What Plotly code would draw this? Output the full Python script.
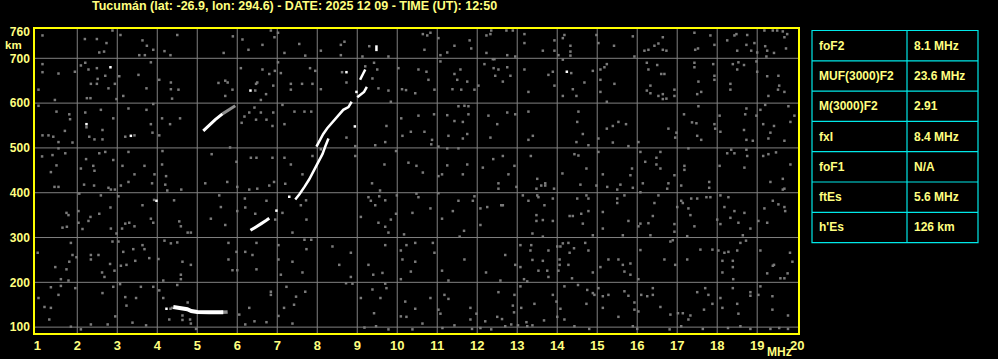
import plotly.graph_objects as go

TITLE = "Tucumán (lat: -26.9, lon: 294.6) - DATE: 2025 12 09 - TIME (UT): 12:50"

x_ticks = list(range(1, 21))
y_ticks = [100, 200, 300, 400, 500, 600, 700, 760]
x_grid = list(range(2, 20))
y_grid = [100, 200, 300, 400, 500, 600, 700]

table_labels = ["foF2", "MUF(3000)F2", "M(3000)F2", "fxI", "foF1", "ftEs", "h'Es"]
table_values = ["8.1 MHz", "23.6 MHz", "2.91", "8.4 MHz", "N/A", "5.6 MHz", "126 km"]

# Echo traces (frequency MHz, virtual height km)
es_mhz = [4.40, 4.60, 4.75, 4.85, 5.00, 5.30, 5.65]
es_km = [145, 143, 140, 136, 134, 133, 133]
es_tail_mhz = [5.60, 5.76]
es_tail_km = [133, 134]

f_hi_mhz = [5.15, 5.30, 5.45, 5.63]
f_hi_km = [538, 551, 563, 576]
f_hi_tail_mhz = [5.63, 5.80, 5.95]
f_hi_tail_km = [576, 586, 594]

o_low_mhz = [6.33, 6.45, 6.60, 6.72, 6.80]
o_low_km = [316, 322, 331, 338, 343]

x_mid_mhz = [7.45, 7.55, 7.68, 7.80, 7.93, 8.05, 8.13, 8.20, 8.28]
x_mid_km = [385, 396, 413, 430, 452, 471, 486, 503, 521]

o_up_mhz = [7.98, 8.07, 8.15, 8.25, 8.36, 8.48, 8.57, 8.65, 8.78, 8.86]
o_up_km = [503, 518, 531, 544, 555, 568, 577, 585, 591, 603]

hook_mhz = [9.00, 9.08, 9.17, 9.24]
hook_km = [613, 618, 625, 636]

top_mhz = [9.07, 9.14, 9.20]
top_km = [652, 664, 675]

dash_mhz = [9.48, 9.48]
dash_km = [716, 729]

white_dots = [(6.98, 360), (7.30, 391), (8.94, 548), (8.73, 669), (6.33, 628),
              (2.83, 680), (2.23, 553), (3.34, 527), (3.98, 382), (4.23, 141),
              (14.24, 670), (8.98, 625)]

noise = [
    (1.13,751),(2.19,743),(2.49,743),(2.73,734),(2.55,713),(2.67,715),(2.88,762),(3.08,752),(3.63,740),(3.74,728),
    (3.55,707),(3.69,707),(3.9,719),(4.18,716),(4.33,707),(4.5,752),(5.66,712),(5.89,749),(6.13,742),(6.28,719),
    (6.63,730),(6.84,762),(6.93,747),(7.02,757),(7.18,712),(7.55,732),(7.7,706),(8.09,717),(8.59,730),(8.68,737),
    (8.59,707),(9.3,727),(9.78,704),(9.13,704),
    (1.13,669),(1.13,687),(1.53,666),(1.94,670),(1.03,630),(1.44,607),(2.2,690),(2.09,684),(2.28,675),(2.49,678),
    (2.51,654),(2.49,643),(2.34,643),(2.7,661),(2.94,643),(2.78,633),(2.24,611),(2.33,611),(2.98,609),(3.05,660),
    (3.15,616),(3.53,663),(3.84,691),(3.73,633),(4.05,652),(4.34,646),(4.34,631),(4.53,630),(4.37,610),(5.53,645),
    (5.7,650),(5.76,646),(5.88,630),(5.7,616),(6.45,628),(6.5,646),(6.47,643),(6.59,607),(6.72,620),(6.9,639),
    (6.94,672),(6.8,665),(6.63,675),(6.09,678),(7.02,691),(7.09,667),(7.34,643),(7.34,630),(7.62,643),(7.88,643),
    (7.82,678),(7.95,672),(8.09,631),(8.62,669),(8.73,646),(9.2,682),(9.42,690),(9.5,675),(9.38,655),(9.53,633),
    (9.78,628),(9.84,603),(10.03,678),(10.12,631),(10.22,629),(10.45,622),
    (1.03,594),(1.48,581),(1.13,528),(1.28,528),(1.4,525),(1.53,513),(1.69,538),(1.82,564),(1.8,575),(1.88,512),
    (2.2,579),(2.23,546),(2.3,525),(2.43,519),(2.63,540),(2.63,519),(2.59,585),(2.9,566),(3.28,588),(3.2,525),
    (3.43,528),(3.73,585),(3.84,553),(3.88,534),(4.05,528),(4.12,566),(4.32,553),(4.57,566),(3.9,598),(6.18,570),
    (6.11,556),(6.3,579),(6.43,590),(6.47,563),(6.59,579),(6.73,563),(6.9,579),(6.88,549),(7.13,596),(7.18,553),
    (7.43,581),(7.68,581),(7.85,581),(8.73,523),(9.73,549),(10.1,566),(10.13,527),(10.34,536),(9.45,506),(9.7,513),
    (8.95,504),
    (1.12,481),(1.38,484),(1.53,499),(1.7,488),(1.48,461),(1.34,446),(2.09,454),(2.22,475),(2.4,460),(2.43,449),
    (2.55,488),(2.7,491),(2.9,473),(3.13,460),(3.43,441),(3.28,491),(3.68,460),(3.93,441),(4.13,493),(4.12,463),
    (4.22,437),(5.36,486),(5.82,501),(5.98,469),(6.34,478),(6.48,478),(6.88,478),(7.18,478),(7.34,463),(7.63,441),
    (7.88,482),(8.09,497),(8.95,482),(9.68,463),(9.97,493),(10.28,467),(10.48,460),
    (1.43,413),(1.53,413),(2.17,418),(2.42,416),(2.78,411),(2.84,407),(2.94,407),(3.09,416),(3.28,424),(3.87,421),
    (4.2,418),(4.25,405),(4.6,407),(5.2,421),(5.75,424),(6.0,413),(6.3,407),(6.5,409),(6.8,416),(6.92,424),
    (7.2,420),(9.37,421),(9.57,405),
    (2.05,398),(2.03,359),(1.73,355),(1.78,350),(1.63,322),(1.74,324),(2.03,333),(2.13,319),(2.28,337),(2.33,346),
    (2.55,353),(2.59,394),(2.83,367),(2.84,320),(2.98,309),(3.03,392),(3.2,331),(3.3,333),(3.43,325),(3.12,320),
    (3.63,372),(3.84,342),(3.9,333),(3.92,384),(4.42,383),(4.55,336),(4.59,325),(4.76,311),(4.84,311),(5.55,394),
    (5.59,368),(5.34,342),(5.7,328),(6.19,387),(6.2,367),(6.0,359),(6.45,353),(6.73,382),(6.95,340),(7.13,355),
    (7.38,311),(7.59,372),(7.73,340),(7.72,383),(9.09,346),(9.28,390),(9.34,382),(9.45,372),(9.55,392),(9.7,383),
    (9.53,333),(9.7,324),(9.78,311),(9.84,340),(9.97,353),(9.99,394),(10.38,355),(10.17,307),(10.48,398),
    (1.01,266),(1.84,288),(1.88,261),(1.98,256),(1.8,246),(1.45,234),(1.73,229),(1.59,207),(1.78,204),(2.34,261),
    (2.34,251),(2.53,261),(2.62,222),(2.68,212),(2.82,241),(2.88,291),(2.93,226),(3.03,291),(3.15,268),(3.09,237),
    (3.23,239),(3.4,274),(3.45,248),(3.68,274),(3.8,254),(3.63,283),(4.03,252),(4.18,293),(4.34,287),(4.5,289),
    (4.63,246),(4.59,217),(4.59,207),(4.15,204),(4.84,239),(5.78,288),(5.98,268),(5.78,251),(6.0,227),(5.88,227),
    (6.2,268),(6.38,261),(6.48,288),(6.48,229),(7.03,283),(7.03,251),(7.09,217),(7.38,246),(7.63,222),(7.73,274),
    (7.68,295),(7.85,295),(8.38,280),(8.84,266),(8.55,239),(8.84,212),(9.28,239),(9.4,217),(9.63,221),(9.7,283),
    (10.09,271),(10.23,283),(10.45,288),(10.13,251),(10.34,224),(10.45,246),(10.09,207),
    (1.34,189),(1.59,192),(1.95,187),(1.03,165),(1.18,145),(1.34,143),(1.53,172),(1.3,117),(1.84,101),(2.34,106),
    (2.09,95),(2.63,176),(2.76,106),(2.95,124),(2.9,190),(3.07,196),(3.2,167),(3.23,148),(3.38,110),(3.59,190),
    (3.72,104),(3.47,165),(3.9,190),(4.05,182),(4.15,165),(4.3,117),(4.5,194),(4.76,155),(4.82,117),(4.63,116),
    (4.84,108),(4.97,96),(4.63,126),(6.05,128),(6.3,143),(6.2,106),(6.43,113),(6.73,111),(6.84,179),(6.84,172),
    (7.17,143),(7.03,125),(7.38,108),(7.47,168),(7.42,150),(7.23,190),(7.7,179),(8.72,198),(8.88,197),(9.09,165),
    (9.38,184),(9.58,165),(9.7,197),(9.73,187),(9.42,131),(10.09,124),(10.2,157),(10.23,123),(10.45,141),(9.18,99),
    (10.38,95),(9.78,95),(9.47,102),(4.37,143),(4.33,141),
    (10.64,754),(10.75,751),(10.83,757),(10.68,719),(11.03,745),(11.08,707),(11.25,713),(11.43,728),(11.81,740),(11.85,722),
    (12.23,751),(12.33,754),(12.35,762),(12.23,712),(12.73,762),(12.75,707),(12.89,762),(12.95,704),(13.18,754),(13.18,734),
    (13.64,717),(13.93,740),(13.93,717),(14.03,707),(14.18,752),(14.14,745),(14.33,728),(14.33,715),(14.33,706),(14.98,752),
    (15.03,734),(15.42,728),(15.89,749),(15.93,704),(16.18,717),(16.28,719),(16.43,728),(16.53,733),(16.64,747),(16.64,719),
    (16.73,717),(17.43,757),(17.83,751),(17.45,719),(17.52,722),(17.93,730),(18.25,740),(18.43,751),(18.48,754),(18.75,752),
    (18.5,717),(18.73,730),(18.85,717),(18.93,734),(19.0,713),(19.18,762),(19.39,762),(19.5,762),(19.64,760),(19.68,747),
    (19.75,754),(19.2,727),(19.25,717),(19.42,712),(19.23,704),(19.72,722),
    (10.53,675),(10.73,670),(10.78,652),(10.93,630),(11.08,693),(11.43,665),(11.58,675),(11.5,652),(11.38,631),(11.6,630),
    (11.75,648),(11.93,630),(12.03,639),(12.18,687),(12.39,698),(12.43,698),(12.41,678),(12.53,675),(12.75,680),(12.83,661),
    (12.64,648),(12.45,661),(13.18,675),(13.28,625),(13.78,663),(13.89,670),(13.93,639),(14.14,697),(14.35,667),(14.39,631),
    (14.48,616),(14.14,616),(14.68,646),(14.89,672),(15.08,675),(15.18,680),(15.08,652),(15.24,687),(15.43,643),(15.08,625),
    (15.24,603),(16.24,690),(16.28,675),(16.5,685),(16.6,665),(16.68,665),(16.33,639),(16.24,628),(16.33,622),(16.53,616),
    (16.64,620),(16.64,609),(16.73,610),(16.93,630),(16.93,616),(17.43,690),(17.43,680),(17.53,648),(17.6,625),(17.5,620),
    (17.9,687),(17.93,661),(17.93,652),(18.33,643),(18.33,630),(18.39,687),(18.53,691),(18.5,675),(18.67,685),(18.98,693),
    (19.0,670),(19.25,660),(19.53,661),(19.55,639),(19.68,625),(19.28,616),(19.52,630),
    (10.53,572),(10.92,575),(10.68,536),(10.87,518),(10.85,508),(11.03,503),(11.25,573),(11.43,560),(11.53,593),(11.68,594),
    (11.78,593),(11.78,575),(11.64,558),(11.28,527),(11.64,521),(11.75,531),(12.28,572),(12.5,553),(12.33,523),(12.75,579),
    (12.95,575),(13.28,581),(13.39,527),(13.28,518),(14.53,581),(14.5,558),(14.64,531),(14.78,506),(14.48,513),(15.03,521),
    (15.24,543),(15.39,549),(15.53,558),(15.72,553),(15.39,512),(15.78,504),(16.03,513),(16.78,543),(16.98,534),(16.95,523),
    (17.17,575),(17.37,557),(17.48,555),(17.53,593),(17.5,527),(17.6,518),(17.93,553),(17.95,543),(18.06,572),(18.08,536),
    (18.73,588),(18.7,575),(18.67,540),(18.73,518),(18.89,516),(18.98,572),(19.08,585),(19.2,596),(19.15,553),(19.33,534),
    (19.28,521),(19.42,549),(19.68,516),(19.78,593),(19.83,558),(19.93,572),
    (10.64,445),(11.03,437),(11.12,441),(11.25,499),(11.25,461),(11.53,499),(11.75,463),(11.64,441),(12.14,456),(12.4,475),
    (12.64,482),(12.78,441),(12.93,460),(13.34,482),(13.5,431),(14.13,443),(14.43,486),(14.53,483),(14.73,454),(15.03,491),
    (15.14,441),(15.87,454),(15.83,439),(16.08,491),(16.2,469),(16.48,478),(16.48,463),(16.58,491),(16.58,454),(16.93,439),
    (17.18,460),(17.18,451),(17.28,499),(18.06,460),(18.25,488),(18.35,496),(18.43,488),(18.75,482),(18.73,496),(18.68,456),
    (19.15,482),(19.28,486),(19.47,490),(19.64,431),(19.83,463),
    (12.53,421),(12.53,409),(12.98,413),(13.48,409),(13.6,416),(13.7,421),(13.7,416),(13.92,409),(14.58,418),(14.98,416),
    (15.25,413),(15.5,407),(15.58,418),(15.89,411),(16.08,401),(16.14,421),(16.78,421),(16.75,409),(17.1,416),(17.8,424),
    (17.8,411),(19.33,424),(19.68,409),
    (10.53,390),(10.83,365),(11.03,399),(11.12,342),(11.39,359),(11.53,382),(11.89,382),(11.93,392),(11.67,315),(11.56,302),
    (12.08,365),(12.08,328),(12.25,368),(12.6,372),(12.64,372),(13.14,394),(13.28,382),(13.5,394),(13.53,390),(13.68,372),
    (13.89,387),(13.48,350),(13.48,337),(13.64,339),(13.89,337),(13.38,309),(13.64,302),(14.31,348),(14.39,348),(14.5,387),
    (14.6,353),(14.64,331),(14.73,394),(14.78,387),(14.78,359),(14.89,305),(15.14,357),(15.14,320),(15.5,387),(15.5,377),
    (15.68,394),(15.78,337),(15.64,305),(16.03,325),(16.08,331),(16.28,332),(16.39,348),(16.53,394),(16.43,377),(16.33,305),
    (16.93,330),(16.93,313),(17.0,368),(17.1,382),(17.14,377),(17.28,365),(17.33,350),(17.35,387),(17.5,387),(17.73,390),
    (17.25,303),(17.43,325),(17.83,390),(18.08,394),(18.28,390),(18.18,368),(18.43,359),(18.68,355),(18.0,340),(18.08,330),
    (18.33,344),(18.53,333),(18.64,305),(18.83,320),(19.03,337),(19.18,365),(19.25,333),(19.39,382),(19.53,374),(19.68,368),
    (19.7,359),(19.64,407),
    (10.89,288),(10.93,266),(11.68,251),(11.12,226),(11.28,204),(12.22,222),(12.58,204),(12.7,261),(12.95,239),(13.08,283),
    (13.08,234),(13.17,207),(13.25,202),(13.35,283),(13.33,271),(13.38,250),(13.53,226),(13.64,248),(13.75,226),(13.78,271),
    (13.78,212),(14.0,280),(14.08,280),(14.06,251),(14.06,239),(14.03,226),(14.14,287),(14.28,288),(14.31,266),(14.42,276),
    (14.28,239),(14.37,209),(14.7,288),(14.78,271),(14.89,222),(15.08,234),(15.28,251),(15.53,251),(15.64,239),(15.68,224),
    (15.83,242),(15.83,217),(16.03,207),(16.08,272),(16.68,251),(16.83,291),(16.89,294),(16.95,239),(17.25,251),(17.58,273),
    (17.88,273),(18.03,271),(18.13,248),(18.18,266),(18.28,268),(18.39,248),(18.39,234),(18.5,271),(18.58,288),(18.72,293),
    (18.13,222),(18.4,207),(19.08,271),(19.39,237),(19.42,239),(19.25,220),(19.58,209),(19.68,209),(19.76,220),(19.82,266),
    (19.88,246),
    (11.03,139),(10.83,165),(11.08,130),(11.18,172),(11.28,163),(11.83,143),(11.83,117),(11.98,130),(12.2,113),(12.5,123),
    (12.53,178),(12.62,118),(12.89,148),(12.92,133),(12.93,172),(12.85,106),(13.1,143),(13.08,191),(13.43,152),(13.23,111),
    (13.67,115),(13.89,172),(13.98,157),(14.08,141),(14.0,123),(14.18,191),(14.18,117),(14.52,194),(14.73,152),(14.75,183),
    (14.89,176),(14.93,172),(15.03,187),(15.14,143),(15.14,169),(15.28,172),(15.53,123),(15.68,180),(15.78,170),(15.93,155),
    (15.93,139),(16.03,135),(16.1,172),(16.25,169),(16.39,187),(16.39,172),(16.58,145),(16.83,128),(17.02,131),(17.14,131),
    (17.33,126),(17.28,117),(17.5,178),(17.7,187),(17.78,172),(17.88,152),(17.67,139),(18.08,165),(18.13,143),(18.39,187),
    (18.5,152),(18.53,130),(18.83,178),(18.83,170),(19.08,191),(19.03,172),(19.38,169),(19.38,139),(19.77,126),
    (10.63,108),(11.13,98),(11.43,104),(11.87,96),(12.08,98),(12.35,95),(12.7,102),(13.02,104),(13.25,102),(13.38,104),
    (14.43,102),(14.8,96),(15.89,102),(16.0,96),(16.81,95),(17.1,102),(17.64,96),(18.27,98),(18.58,102),(18.83,96),
    (19.33,96),(19.55,98),(19.77,96),
]

BG = "#000000"
GRID = "#808080"
YELLOW = "#ffff00"
TXT = "#ffff80"
CYAN = "#00e8e8"
FONT = "Liberation Sans"

fig = go.Figure()

fig.add_trace(go.Scatter(
    x=[p[0] for p in noise], y=[p[1] for p in noise], mode="markers",
    marker=dict(symbol="square", size=2.5, color="#7a7a7a", line=dict(width=0)),
    hoverinfo="skip", showlegend=False))

def line(xs, ys, color="#ffffff", width=2.5):
    fig.add_trace(go.Scatter(x=xs, y=ys, mode="lines",
                             line=dict(color=color, width=width),
                             hoverinfo="skip", showlegend=False))

line(es_tail_mhz, es_tail_km, color="#909090", width=3.5)
line(es_mhz, es_km, width=4)
line(f_hi_tail_mhz, f_hi_tail_km, color="#909090", width=3)
line(f_hi_mhz, f_hi_km, width=3)
line(o_low_mhz, o_low_km, width=3)
line(x_mid_mhz, x_mid_km, width=2.5)
line(o_up_mhz, o_up_km, width=2.5)
line(hook_mhz, hook_km, width=2.5)
line(top_mhz, top_km, width=2.5)
line(dash_mhz, dash_km, width=2.5)

fig.add_trace(go.Scatter(
    x=[p[0] for p in white_dots], y=[p[1] for p in white_dots], mode="markers",
    marker=dict(symbol="square", size=2.5, color="#ffffff", line=dict(width=0)),
    hoverinfo="skip", showlegend=False))

shapes = []
for v in x_grid:
    shapes.append(dict(type="line", xref="x", yref="paper", x0=v, x1=v, y0=0, y1=1,
                       line=dict(color=GRID, width=1), layer="below"))
for v in y_grid:
    shapes.append(dict(type="line", xref="paper", yref="y", x0=0, x1=1, y0=v, y1=v,
                       line=dict(color=GRID, width=1), layer="below"))

# Plot area in pixels (for the side table placement)
L, R, T, B = 35, 200, 29, 26
W, H = 998, 359
PW, PH = W - L - R, H - T - B

def px_x(p):
    return (p - L) / PW

def px_y(p):
    return (H - B - p) / PH

tab_l, tab_m, tab_r = 812, 907, 978
tab_t, row_h = 30.5, 30.3
n = len(table_labels)
shapes.append(dict(type="rect", xref="paper", yref="paper",
                   x0=px_x(tab_l), x1=px_x(tab_r), y0=px_y(tab_t + n * row_h), y1=px_y(tab_t),
                   line=dict(color=CYAN, width=1.2), fillcolor="rgba(0,0,0,0)"))
shapes.append(dict(type="line", xref="paper", yref="paper",
                   x0=px_x(tab_m), x1=px_x(tab_m), y0=px_y(tab_t + n * row_h), y1=px_y(tab_t),
                   line=dict(color=CYAN, width=1.2)))
annotations = []
for i in range(n):
    if i > 0:
        yy = px_y(tab_t + i * row_h)
        shapes.append(dict(type="line", xref="paper", yref="paper",
                           x0=px_x(tab_l), x1=px_x(tab_r), y0=yy, y1=yy,
                           line=dict(color=CYAN, width=1.2)))
    yc = px_y(tab_t + (i + 0.5) * row_h)
    annotations.append(dict(x=px_x(tab_l + 5), y=yc, xref="paper", yref="paper",
                            text=table_labels[i], showarrow=False, xanchor="left", yanchor="middle",
                            font=dict(family=FONT, size=12, color=TXT, weight="bold")))
    annotations.append(dict(x=px_x(tab_m + 5), y=yc, xref="paper", yref="paper",
                            text=table_values[i], showarrow=False, xanchor="left", yanchor="middle",
                            font=dict(family=FONT, size=12, color=TXT, weight="bold")))

annotations.append(dict(x=px_x(294), y=px_y(6), xref="paper", yref="paper", text=TITLE,
                        showarrow=False, xanchor="center", yanchor="middle",
                        font=dict(family=FONT, size=12.5, color=TXT, weight="bold")))
annotations.append(dict(x=px_x(13.5), y=px_y(44.8), xref="paper", yref="paper", text="km",
                        showarrow=False, xanchor="center", yanchor="middle",
                        font=dict(family=FONT, size=11.5, color=TXT, weight="bold")))
annotations.append(dict(x=px_x(779.5), y=px_y(352), xref="paper", yref="paper", text="MHz",
                        showarrow=False, xanchor="center", yanchor="middle",
                        font=dict(family=FONT, size=12, color=TXT, weight="bold")))

xtickfont = dict(family=FONT, size=13, color=TXT, weight="bold")
ytickfont = dict(family=FONT, size=12, color=TXT, weight="bold")
fig.update_layout(
    width=W, height=H, margin=dict(l=L, r=R, t=T, b=B, pad=0, autoexpand=False),
    paper_bgcolor=BG, plot_bgcolor=BG, showlegend=False,
    xaxis=dict(range=[0.943, 20.02], tickvals=x_ticks, ticktext=[str(v) for v in x_ticks],
               showgrid=False, zeroline=False, showline=True, mirror=True, automargin=False,
               linecolor=YELLOW, linewidth=1.5, ticks="", tickfont=xtickfont),
    yaxis=dict(range=[86.9, 765.4], tickvals=y_ticks, ticktext=[str(v) for v in y_ticks],
               showgrid=False, zeroline=False, showline=True, mirror=True, automargin=False,
               linecolor=YELLOW, linewidth=1.5, ticks="outside", ticklen=1, tickcolor=BG,
               tickfont=ytickfont),
    shapes=shapes, annotations=annotations,
)

fig.write_html("out.html")
